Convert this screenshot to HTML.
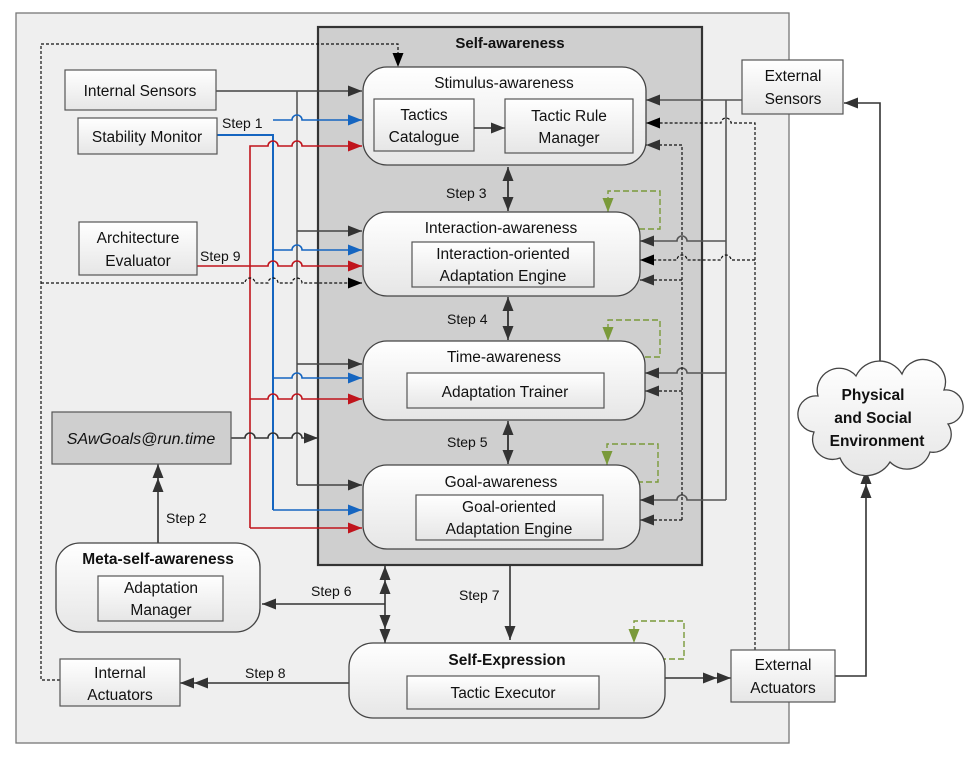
<!DOCTYPE html>
<html><head><meta charset="utf-8"><style>
body{margin:0;background:#fff}
svg{display:block;font-family:"Liberation Sans",Arial,sans-serif}
text{font-size:15.5px;fill:#111}
</style></head><body>
<svg width="973" height="768" viewBox="0 0 973 768" xmlns="http://www.w3.org/2000/svg">
<defs>
<linearGradient id="g" x1="0" y1="0" x2="0" y2="1"><stop offset="0" stop-color="#fff"/><stop offset="1" stop-color="#e6e6e6"/></linearGradient>
<marker id="a" viewBox="0 0 14 11" refX="14" refY="5.5" markerWidth="14" markerHeight="11" markerUnits="userSpaceOnUse" orient="auto"><path d="M0,0L14,5.5L0,11z" fill="#333"/></marker>
<marker id="ab" viewBox="0 0 14 11" refX="14" refY="5.5" markerWidth="14" markerHeight="11" markerUnits="userSpaceOnUse" orient="auto"><path d="M0,0L14,5.5L0,11z" fill="#1565c0"/></marker>
<marker id="ar" viewBox="0 0 14 11" refX="14" refY="5.5" markerWidth="14" markerHeight="11" markerUnits="userSpaceOnUse" orient="auto"><path d="M0,0L14,5.5L0,11z" fill="#c0141c"/></marker>
<marker id="ak" viewBox="0 0 14 11" refX="14" refY="5.5" markerWidth="14" markerHeight="11" markerUnits="userSpaceOnUse" orient="auto"><path d="M0,0L14,5.5L0,11z" fill="#000"/></marker>
<marker id="ag" viewBox="0 0 14 11" refX="14" refY="5.5" markerWidth="14" markerHeight="11" markerUnits="userSpaceOnUse" orient="auto"><path d="M0,0L14,5.5L0,11z" fill="#7a9a3a"/></marker>
<marker id="aa" viewBox="0 0 28 11" refX="28" refY="5.5" markerWidth="28" markerHeight="11" markerUnits="userSpaceOnUse" orient="auto"><path d="M0,0L14,5.5L0,11zM14,0L28,5.5L14,11z" fill="#333"/></marker>
<marker id="aas" viewBox="0 0 28 11" refX="28" refY="5.5" markerWidth="28" markerHeight="11" markerUnits="userSpaceOnUse" orient="auto-start-reverse"><path d="M0,0L14,5.5L0,11zM14,0L28,5.5L14,11z" fill="#333"/></marker>
</defs>
<rect x="16" y="13" width="773" height="730" fill="#efefef" stroke="#777" stroke-width="1.3"/>
<rect x="318" y="27" width="384" height="538" fill="#cfcfcf" stroke="#333" stroke-width="2.2"/>
<text x="510" y="48" text-anchor="middle" font-weight="bold" style="font-size:15px">Self-awareness</text>

<g fill="none" stroke-width="1.6">
<path d="M216,91H362" stroke="#444" marker-end="url(#a)"/>
<path d="M297,91V485" stroke="#555"/>
<path d="M297,231H362" stroke="#444" marker-end="url(#a)"/>
<path d="M297,364H362" stroke="#444" marker-end="url(#a)"/>
<path d="M297,485H362" stroke="#444" marker-end="url(#a)"/>
<path d="M217,135H273V510" stroke="#1565c0" stroke-width="2"/>
<path d="M273,120H292a5,5 0 0 1 10,0H362" stroke="#1565c0" marker-end="url(#ab)"/>
<path d="M273,250H292a5,5 0 0 1 10,0H362" stroke="#1565c0" marker-end="url(#ab)"/>
<path d="M273,378H292a5,5 0 0 1 10,0H362" stroke="#1565c0" marker-end="url(#ab)"/>
<path d="M273,510H362" stroke="#1565c0" marker-end="url(#ab)"/>
<path d="M250,528V146H268a5,5 0 0 1 10,0h14a5,5 0 0 1 10,0H362" stroke="#c0141c" marker-end="url(#ar)"/>
<path d="M197,266H268a5,5 0 0 1 10,0h14a5,5 0 0 1 10,0H362" stroke="#c0141c" marker-end="url(#ar)"/>
<path d="M250,399H268a5,5 0 0 1 10,0h14a5,5 0 0 1 10,0H362" stroke="#c0141c" marker-end="url(#ar)"/>
<path d="M250,528H362" stroke="#c0141c" marker-end="url(#ar)"/>
<path d="M231,438H245a5,5 0 0 1 10,0h13a5,5 0 0 1 10,0h14a5,5 0 0 1 10,0H318" stroke="#333" marker-end="url(#a)"/>
</g>
<g fill="none" stroke="#111" stroke-width="1.2" stroke-dasharray="3,2">
<path d="M60,680H41V44H398V67" marker-end="url(#ak)"/>
<path d="M41,283H245a5,5 0 0 1 10,0h13a5,5 0 0 1 10,0h14a5,5 0 0 1 10,0H362" marker-end="url(#ak)"/>
</g>

<g fill="none" stroke="#555" stroke-width="1.6">
<path d="M742,100H646" marker-end="url(#a)"/>
<path d="M726,100V500"/>
<path d="M726,241H687a5,5 0 0 0 -10,0H640" marker-end="url(#a)"/>
<path d="M726,373H687a5,5 0 0 0 -10,0H645" marker-end="url(#a)"/>
<path d="M726,500H687a5,5 0 0 0 -10,0H640" marker-end="url(#a)"/>
</g>
<g fill="none" stroke="#111" stroke-width="1.2" stroke-dasharray="3,2">
<path d="M755,650V123H731a5,5 0 0 0 -10,0H646" marker-end="url(#ak)"/>
<path d="M755,260H731a5,5 0 0 0 -10,0H687a5,5 0 0 0 -10,0H640" marker-end="url(#ak)"/>
<path d="M682,520V145H646" marker-end="url(#a)"/>
<path d="M682,280H640" marker-end="url(#a)"/>
<path d="M682,391H645" marker-end="url(#a)"/>
<path d="M682,520H640" marker-end="url(#a)"/>
</g>
<g fill="none" stroke="#7a9a3a" stroke-width="1.4" stroke-dasharray="6,3">
<path d="M630,229H660V191H608V212" marker-end="url(#ag)"/>
<path d="M636,357H660V320H608V341" marker-end="url(#ag)"/>
<path d="M628,482H658V444H607V465" marker-end="url(#ag)"/>
<path d="M660,659H684V621H634V643" marker-end="url(#ag)"/>
</g>

<g fill="none" stroke="#333" stroke-width="1.6">
<path d="M508,180V211" marker-end="url(#a)"/><path d="M508,200V167" marker-end="url(#a)"/>
<path d="M508,310V340" marker-end="url(#a)"/><path d="M508,330V297" marker-end="url(#a)"/>
<path d="M508,434V464" marker-end="url(#a)"/><path d="M508,454V421" marker-end="url(#a)"/>
<path d="M158,543V464" marker-end="url(#aa)"/>
<path d="M385,566V643" marker-start="url(#aas)" marker-end="url(#aa)"/>
<path d="M385,604H262" marker-end="url(#a)"/>
<path d="M510,565V640" marker-end="url(#a)"/>
<path d="M349,683H180" marker-end="url(#aa)"/>
<path d="M665,678H731" marker-end="url(#aa)"/>
<path d="M835,676H866V470" marker-end="url(#aa)"/>
<path d="M880,374V103H844" marker-end="url(#a)"/>
</g>

<g stroke="#444" stroke-width="1.3" fill="url(#g)">
<rect x="363" y="67" width="283" height="98" rx="24"/>
<rect x="363" y="212" width="277" height="84" rx="24"/>
<rect x="363" y="341" width="282" height="79" rx="24"/>
<rect x="363" y="465" width="277" height="84" rx="24"/>
<rect x="56" y="543" width="204" height="89" rx="24"/>
<rect x="349" y="643" width="316" height="75" rx="24"/>
</g>
<g stroke="#555" stroke-width="1.2" fill="url(#g)">
<rect x="374" y="99" width="100" height="52"/>
<rect x="505" y="99" width="128" height="54"/>
<rect x="412" y="242" width="182" height="45"/>
<rect x="407" y="373" width="197" height="35"/>
<rect x="416" y="495" width="187" height="45"/>
<rect x="98" y="576" width="125" height="45"/>
<rect x="407" y="676" width="192" height="33"/>
<rect x="65" y="70" width="151" height="40"/>
<rect x="78" y="118" width="139" height="36"/>
<rect x="79" y="222" width="118" height="53"/>
<rect x="60" y="659" width="120" height="47"/>
<rect x="742" y="60" width="101" height="54"/>
<rect x="731" y="650" width="104" height="52"/>
</g>
<rect x="52" y="412" width="179" height="52" fill="#cfcfcf" stroke="#555" stroke-width="1.2"/>
<path d="M474,128H505" stroke="#333" stroke-width="1.6" fill="none" marker-end="url(#a)"/>

<path d="M818,396a22,22 0 0 1 38,-20a26,26 0 0 1 46,-2a22,22 0 0 1 42,16a16,16 0 0 1 4,34a18,18 0 0 1 -18,28a24,24 0 0 1 -40,10a28,28 0 0 1 -50,-4a20,20 0 0 1 -26,-26a16,16 0 0 1 4,-36z" fill="url(#g)" stroke="#444" stroke-width="1.3"/>

<g text-anchor="middle">
<text x="504" y="88">Stimulus-awareness</text>
<text x="424" y="120">Tactics</text><text x="424" y="142">Catalogue</text>
<text x="569" y="121">Tactic Rule</text><text x="569" y="143">Manager</text>
<text x="501" y="233">Interaction-awareness</text>
<text x="503" y="259">Interaction-oriented</text><text x="503" y="281">Adaptation Engine</text>
<text x="504" y="362">Time-awareness</text>
<text x="505" y="397">Adaptation Trainer</text>
<text x="501" y="487">Goal-awareness</text>
<text x="509" y="512">Goal-oriented</text><text x="509" y="534">Adaptation Engine</text>
<text x="158" y="564" font-weight="bold">Meta-self-awareness</text>
<text x="161" y="593">Adaptation</text><text x="161" y="615">Manager</text>
<text x="507" y="665" font-weight="bold">Self-Expression</text>
<text x="503" y="698">Tactic Executor</text>
<text x="140" y="96">Internal Sensors</text>
<text x="147" y="142">Stability Monitor</text>
<text x="138" y="243">Architecture</text><text x="138" y="266">Evaluator</text>
<text x="141" y="444" font-style="italic" style="font-size:16px">SAwGoals@run.time</text>
<text x="120" y="678">Internal</text><text x="120" y="700">Actuators</text>
<text x="793" y="81">External</text><text x="793" y="104">Sensors</text>
<text x="783" y="670">External</text><text x="783" y="693">Actuators</text>
<text x="873" y="400" font-weight="bold">Physical</text>
<text x="873" y="423" font-weight="bold">and Social</text>
<text x="877" y="446" font-weight="bold">Environment</text>
</g>
<g>
<text x="222" y="128" style="font-size:14px">Step 1</text>
<text x="200" y="261" style="font-size:14px">Step 9</text>
<text x="446" y="198" style="font-size:14px">Step 3</text>
<text x="447" y="324" style="font-size:14px">Step 4</text>
<text x="447" y="447" style="font-size:14px">Step 5</text>
<text x="166" y="523" style="font-size:14px">Step 2</text>
<text x="311" y="596" style="font-size:14px">Step 6</text>
<text x="459" y="600" style="font-size:14px">Step 7</text>
<text x="245" y="678" style="font-size:14px">Step 8</text>
</g>
</svg>
</body></html>
